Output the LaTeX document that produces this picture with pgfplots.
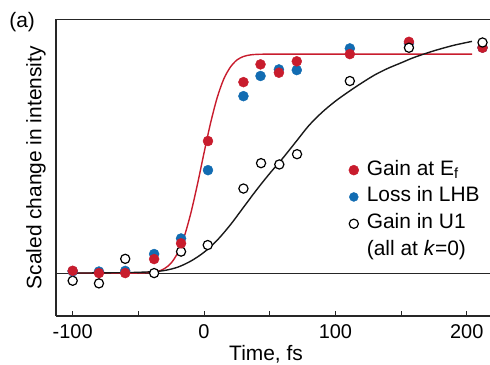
\documentclass[border=0pt]{standalone}
\usepackage{pgfplots}
\pgfplotsset{compat=1.18}
\usepackage{fontspec}
\setmainfont{Liberation Sans}
\usetikzlibrary{calc}
\definecolor{cred}{RGB}{200,28,45}
\definecolor{cblue}{RGB}{18,108,178}
\begin{document}
\begin{tikzpicture}
\begin{axis}[
  scale only axis, width=434bp, height=296.5bp,
  xmin=-112.7, xmax=217.7, ymin=-0.196, ymax=1.158,
  axis x line*=box, axis y line*=left,
  x axis line style={-}, y axis line style={-},
  axis line style={line width=1.1bp, black!85},
  ytick=\empty,
  xtick={-100,-50,0,50,100,150,200},
  xticklabels={-100,,0,,100,,200},
  xtick pos=bottom, tick align=inside,
  major tick length=5bp,
  every tick/.style={black!85, line width=1bp},
  font=\fontsize{21}{25}\selectfont,
  /pgf/number format/assume math mode=true,
  xticklabel style={inner sep=0pt, yshift=-8bp, font=\fontsize{20}{24}\selectfont},
  xlabel={Time, fs},
  xlabel style={at={(rel axis cs:0.484,0)}, anchor=base, inner sep=0pt, yshift=-44bp},
  ylabel={Scaled change in intensity},
  ylabel style={at={(rel axis cs:-0.023,0.5)}, anchor=south, inner sep=0pt, rotate=0},
  clip=false,
  legend cell align=left,
  legend image code/.code={\draw[#1] plot coordinates {(0bp,0bp)};},
  legend style={draw=none, fill=none, inner sep=0pt, outer sep=0pt,
    at={(rel axis cs:0.6747,0.5290)}, anchor=north west,
    column sep=7bp, row sep=4.8bp,
    nodes={inner sep=1bp, text height=15bp, text depth=5bp},
    font=\fontsize{21}{25}\selectfont},
]
\coordinate (bl) at (rel axis cs:0,0);
\coordinate (tr) at (rel axis cs:1,1);
% baseline
\addplot[black!85, line width=1bp, forget plot] coordinates {(-112.7,0) (217.7,0)};
% fit curves
\addplot[cred, line width=1.4bp, smooth, forget plot] coordinates {
(-100,0) (-60,0) (-50,0.0002) (-40,0.003) (-35,0.008) (-30,0.021) (-25,0.046)
(-20,0.093) (-15,0.168) (-10,0.275) (-5,0.406) (0,0.549) (5,0.686) (10,0.801)
(15,0.886) (20,0.940) (25,0.973) (30,0.989) (35,0.996) (40,0.9987) (50,1.0)
(70,1.0) (100,1.0) (150,1.0) (204,1.0)};
\addplot[black!90, line width=1.4bp, smooth, forget plot] coordinates {
(-100,0) (-60,0.002) (-40,0.006) (-30,0.012) (-20,0.027) (-10,0.055) (0,0.095)
(10,0.150) (20,0.22) (30,0.30) (40,0.38) (50,0.455) (60,0.525) (70,0.60)
(80,0.675) (90,0.735) (100,0.785) (110,0.828) (120,0.868) (130,0.905)
(140,0.935) (150,0.96) (160,0.985) (175,1.015) (190,1.04) (204,1.058)};
% Gain in U1 (open) drawn beneath the filled dots
\addplot[only marks, mark=*, mark size=4.6bp, black, mark options={draw=black, fill=white, line width=1.2bp}, forget plot] coordinates {
(-100,-0.035) (-80,-0.047) (-60,0.065) (-38,0.0) (-17.5,0.098) (2.8,0.128) (30,0.386)
(43.4,0.502) (57.3,0.496) (70.8,0.543) (111,0.877)};
% Loss in LHB (blue)
\addplot[only marks, mark=*, mark size=5bp, cblue, mark options={draw=cblue, fill=cblue}, forget plot] coordinates {
(-100,0.008) (-80,0.007) (-60,0.01) (-38,0.087) (-17.5,0.158) (3,0.470) (30,0.808)
(43,0.900) (57,0.930) (70.6,0.927) (111,1.026) (156,1.05) (212,1.03)};
% Gain at Ef (red)
\addplot[only marks, mark=*, mark size=5bp, cred, mark options={draw=cred, fill=cred}] coordinates {
(-100,0.0105) (-80,0.0) (-60,0.0) (-38,0.064) (-17.5,0.136) (3,0.603) (30,0.872)
(43,0.953) (57,0.915) (70.6,0.967) (111,1.0) (156,1.056) (212,1.029)};
\addlegendentry{Gain at E\textsubscript{f}}
\addlegendimage{only marks, mark=*, mark size=4.5bp, cblue, mark options={draw=cblue, fill=cblue}}
\addlegendentry{Loss in LHB}
% Gain in U1 (open), late points drawn above the red dots
\addplot[only marks, mark=*, mark size=4.6bp, black, mark options={draw=black, fill=white, line width=1.2bp}] coordinates {
(156,1.029) (212,1.053)};
\addlegendentry{Gain in U1}
\addlegendimage{empty legend}
\addlegendentry{(all at \textit{k}=0)}
\node[anchor=west, inner sep=0pt] at (rel axis cs:-0.108,0.9916) {(a)};
\end{axis}
\pgfresetboundingbox
\path ($(bl)+(-56bp,-49bp)$) rectangle ($(tr)+(0bp,19.5bp)$);
\end{tikzpicture}
\end{document}
